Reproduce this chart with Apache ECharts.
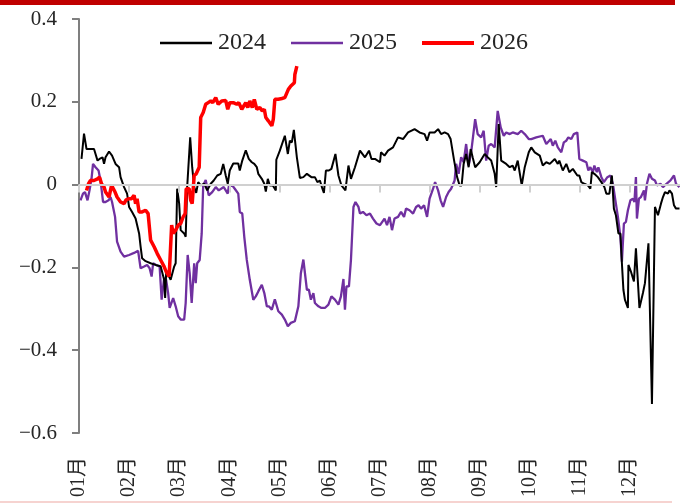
<!DOCTYPE html>
<html>
<head>
<meta charset="utf-8">
<script src="https://cdn.jsdelivr.net/npm/echarts@6/dist/echarts.min.js"></script>
<style>html,body{margin:0;padding:0;background:#fff}#c{width:680px;height:503px}</style>
</head>
<body>
<div id="c"></div>
<script>
// x = position within the year in months (0 = start of January), y = value
const monthLabels = ['01月','02月','03月','04月','05月','06月','07月','08月','09月','10月','11月','12月'];
const yTickLabels = {'-0.6':'−0.6','-0.4':'−0.4','-0.2':'−0.2','0':'0','0.2':'0.2','0.4':'0.4'};
const legendNames = ['2024','2025','2026'];

const series2024 = [
[0.05,0.062],[0.10,0.123],[0.15,0.086],[0.30,0.086],[0.33,0.09],[0.37,0.058],[0.41,0.062],[0.47,0.066],[0.50,0.05],[0.53,0.066],
[0.60,0.08],[0.66,0.07],[0.73,0.05],[0.80,0.042],[0.83,0.018],[0.90,-0.006],[0.96,-0.022],[1.00,-0.054],[1.06,-0.066],[1.13,-0.082],
[1.20,-0.118],[1.23,-0.15],[1.26,-0.178],[1.33,-0.185],[1.43,-0.19],[1.53,-0.194],[1.63,-0.197],[1.70,-0.23],[1.72,-0.274],[1.74,-0.214],
[1.78,-0.218],[1.83,-0.23],[1.90,-0.198],[1.93,-0.19],[1.96,-0.01],[2.00,-0.046],[2.03,-0.11],[2.10,-0.118],[2.13,-0.126],[2.16,-0.006],
[2.22,0.114],[2.26,0.042],[2.30,-0.006],[2.34,-0.02],[2.38,0.006],[2.43,-0.002],[2.50,0.002],[2.56,-0.014],[2.63,0.002],[2.69,0.01],
[2.76,0.022],[2.83,0.026],[2.88,0.05],[2.93,0.022],[2.97,0.002],[3.01,0.034],[3.08,0.051],[3.18,0.051],[3.21,0.034],[3.26,0.058],
[3.33,0.083],[3.39,0.062],[3.45,0.054],[3.50,0.05],[3.55,0.042],[3.58,0.026],[3.65,0.014],[3.70,0.002],[3.73,-0.017],[3.77,0.014],
[3.81,-0.002],[3.87,-0.002],[3.93,-0.014],[3.94,0.06],[4.01,0.082],[4.11,0.118],[4.17,0.074],[4.21,0.106],[4.25,0.102],[4.29,0.132],
[4.35,0.066],[4.41,0.016],[4.48,0.018],[4.55,0.026],[4.64,0.018],[4.71,0.018],[4.76,0.006],[4.81,0.01],[4.86,-0.01],[4.89,-0.02],
[4.93,0.034],[4.99,0.034],[5.04,0.038],[5.12,0.074],[5.18,0.022],[5.24,-0.002],[5.32,-0.014],[5.38,0.046],[5.43,0.014],[5.51,0.042],
[5.61,0.082],[5.71,0.066],[5.79,0.082],[5.84,0.062],[5.91,0.062],[6.01,0.054],[6.03,0.078],[6.10,0.07],[6.17,0.082],[6.27,0.09],
[6.37,0.114],[6.47,0.11],[6.57,0.126],[6.70,0.134],[6.80,0.126],[6.90,0.122],[6.95,0.106],[7.00,0.126],[7.10,0.126],[7.17,0.134],
[7.23,0.122],[7.30,0.126],[7.37,0.122],[7.42,0.11],[7.49,0.058],[7.55,0.018],[7.60,-0.002],[7.64,-0.002],[7.68,0.05],[7.73,0.074],
[7.78,0.042],[7.82,0.086],[7.86,0.066],[7.91,0.042],[8.00,0.054],[8.10,0.074],[8.16,0.066],[8.23,0.058],[8.30,0.026],[8.33,-0.006],
[8.38,0.146],[8.43,0.058],[8.53,0.05],[8.60,0.042],[8.66,0.046],[8.70,0.034],[8.76,0.058],[8.84,-0.002],[8.90,0.042],[8.98,0.078],
[9.03,0.09],[9.10,0.078],[9.20,0.07],[9.26,0.046],[9.33,0.054],[9.40,0.05],[9.50,0.062],[9.56,0.05],[9.59,0.058],[9.66,0.034],
[9.73,0.05],[9.79,0.03],[9.86,0.038],[9.89,0.042],[9.95,0.022],[9.99,0.022],[10.03,0.006],[10.09,0.002],[10.16,-0.002],[10.21,-0.01],
[10.24,0.03],[10.29,0.026],[10.36,0.018],[10.43,0.006],[10.49,-0.006],[10.53,-0.022],[10.59,-0.022],[10.64,0.022],[10.68,-0.058],[10.72,-0.074],
[10.77,-0.118],[10.81,-0.118],[10.84,-0.19],[10.87,-0.254],[10.90,-0.278],[10.96,-0.298],[10.97,-0.194],[11.02,-0.21],[11.08,-0.234],[11.12,-0.154],
[11.19,-0.298],[11.26,-0.262],[11.30,-0.238],[11.37,-0.142],[11.44,-0.53],[11.50,-0.054],[11.56,-0.074],[11.62,-0.046],[11.66,-0.03],[11.70,-0.018],
[11.76,-0.022],[11.79,-0.014],[11.84,-0.022],[11.88,-0.05],[11.92,-0.058],[11.99,-0.058]
];

const series2025 = [
[0.03,-0.038],[0.08,-0.022],[0.12,-0.018],[0.17,-0.038],[0.21,-0.014],[0.25,0.014],[0.28,0.05],[0.33,0.042],[0.39,0.034],[0.43,0.01],
[0.48,-0.042],[0.53,-0.042],[0.59,-0.038],[0.63,-0.03],[0.66,-0.042],[0.72,-0.078],[0.76,-0.138],[0.83,-0.162],[0.90,-0.174],[1.00,-0.17],
[1.10,-0.165],[1.18,-0.16],[1.23,-0.202],[1.30,-0.198],[1.36,-0.194],[1.41,-0.202],[1.45,-0.222],[1.48,-0.19],[1.54,-0.194],[1.61,-0.198],
[1.65,-0.278],[1.70,-0.226],[1.74,-0.23],[1.78,-0.262],[1.81,-0.298],[1.88,-0.274],[1.93,-0.294],[1.98,-0.318],[2.03,-0.326],[2.10,-0.326],
[2.13,-0.286],[2.17,-0.17],[2.21,-0.214],[2.25,-0.286],[2.30,-0.19],[2.33,-0.238],[2.36,-0.19],[2.41,-0.182],[2.45,-0.118],[2.48,-0.002],
[2.53,0.011],[2.59,-0.026],[2.66,-0.018],[2.73,-0.006],[2.79,-0.014],[2.89,-0.006],[2.97,-0.022],[2.99,-0.005],[3.06,-0.002],[3.11,-0.01],
[3.18,-0.022],[3.21,-0.066],[3.26,-0.07],[3.30,-0.126],[3.35,-0.182],[3.41,-0.23],[3.48,-0.278],[3.53,-0.27],[3.58,-0.258],[3.65,-0.242],
[3.70,-0.262],[3.75,-0.294],[3.79,-0.294],[3.85,-0.302],[3.91,-0.277],[3.98,-0.306],[4.05,-0.314],[4.11,-0.326],[4.17,-0.342],[4.23,-0.334],
[4.31,-0.33],[4.38,-0.294],[4.43,-0.214],[4.48,-0.181],[4.55,-0.254],[4.59,-0.254],[4.63,-0.278],[4.68,-0.262],[4.71,-0.286],[4.78,-0.294],
[4.84,-0.298],[4.91,-0.298],[4.98,-0.29],[5.04,-0.27],[5.11,-0.278],[5.18,-0.29],[5.23,-0.27],[5.28,-0.228],[5.31,-0.302],[5.34,-0.246],
[5.39,-0.246],[5.43,-0.182],[5.48,-0.054],[5.52,-0.042],[5.58,-0.054],[5.61,-0.07],[5.67,-0.066],[5.74,-0.074],[5.81,-0.07],[5.87,-0.082],
[5.94,-0.094],[6.01,-0.098],[6.03,-0.102],[6.10,-0.082],[6.15,-0.098],[6.20,-0.078],[6.25,-0.11],[6.30,-0.082],[6.37,-0.078],[6.43,-0.066],
[6.49,-0.078],[6.53,-0.058],[6.60,-0.062],[6.67,-0.07],[6.73,-0.054],[6.78,-0.05],[6.83,-0.058],[6.89,-0.05],[6.95,-0.078],[7.00,-0.034],
[7.07,-0.01],[7.11,0.006],[7.17,-0.014],[7.22,-0.038],[7.27,-0.054],[7.33,-0.03],[7.38,-0.018],[7.43,-0.01],[7.50,0.01],[7.53,0.05],
[7.58,0.026],[7.63,0.066],[7.68,0.054],[7.73,0.098],[7.78,0.046],[7.83,0.078],[7.91,0.158],[7.96,0.122],[8.03,0.114],[8.08,0.13],
[8.13,0.058],[8.18,0.094],[8.23,0.098],[8.30,0.09],[8.36,0.178],[8.42,0.138],[8.48,0.118],[8.53,0.126],[8.60,0.122],[8.66,0.126],
[8.76,0.122],[8.83,0.13],[8.90,0.122],[8.98,0.11],[9.03,0.11],[9.13,0.114],[9.26,0.118],[9.33,0.098],[9.42,0.11],[9.46,0.094],
[9.51,0.106],[9.56,0.09],[9.63,0.078],[9.68,0.102],[9.73,0.106],[9.77,0.114],[9.83,0.11],[9.88,0.122],[9.95,0.126],[9.99,0.062],
[10.06,0.058],[10.13,0.054],[10.17,0.034],[10.21,0.042],[10.26,0.03],[10.29,0.046],[10.34,0.03],[10.37,0.042],[10.43,0.018],[10.48,0.006],
[10.55,0.018],[10.61,0.022],[10.66,0.002],[10.71,-0.038],[10.76,-0.078],[10.81,-0.126],[10.84,-0.186],[10.88,-0.094],[10.92,-0.09],[10.96,-0.062],
[11.01,-0.038],[11.06,-0.034],[11.09,-0.042],[11.12,0.018],[11.14,-0.082],[11.18,-0.034],[11.22,-0.03],[11.28,-0.014],[11.30,-0.038],[11.34,0.002],
[11.39,0.026],[11.44,0.014],[11.50,0.01],[11.54,-0.002],[11.61,0.002],[11.66,-0.006],[11.73,0.002],[11.81,0.01],[11.88,0.022],[11.92,0.002],
[11.99,-0.006]
];

const series2026 = [
[0.15,-0.014],[0.19,0.002],[0.23,0.01],[0.30,0.01],[0.37,0.014],[0.41,0.018],[0.45,0.002],[0.50,-0.006],[0.53,-0.018],[0.60,-0.03],
[0.65,-0.002],[0.68,0.002],[0.72,-0.018],[0.76,-0.03],[0.83,-0.042],[0.90,-0.046],[0.94,-0.037],[1.00,-0.034],[1.05,-0.034],[1.10,-0.026],
[1.13,-0.046],[1.16,-0.034],[1.20,-0.066],[1.26,-0.066],[1.33,-0.062],[1.38,-0.07],[1.43,-0.134],[1.50,-0.15],[1.56,-0.166],[1.63,-0.182],
[1.70,-0.198],[1.74,-0.21],[1.80,-0.222],[1.85,-0.098],[1.88,-0.118],[1.93,-0.11],[1.98,-0.098],[2.03,-0.094],[2.08,-0.078],[2.12,-0.07],
[2.14,-0.01],[2.20,-0.01],[2.23,-0.038],[2.26,-0.046],[2.30,0.022],[2.34,0.026],[2.40,0.042],[2.43,0.162],[2.48,0.174],[2.53,0.194],
[2.58,0.198],[2.63,0.202],[2.67,0.198],[2.73,0.21],[2.78,0.194],[2.85,0.202],[2.93,0.203],[2.97,0.182],[3.01,0.198],[3.08,0.198],
[3.15,0.194],[3.19,0.198],[3.25,0.182],[3.28,0.178],[3.33,0.198],[3.37,0.186],[3.41,0.202],[3.46,0.186],[3.50,0.206],[3.55,0.182],
[3.61,0.186],[3.66,0.178],[3.70,0.182],[3.73,0.162],[3.78,0.154],[3.85,0.142],[3.88,0.158],[3.91,0.206],[3.98,0.206],[4.05,0.208],
[4.11,0.21],[4.18,0.23],[4.23,0.238],[4.30,0.246],[4.31,0.266],[4.35,0.286]
];

const serifFont = "'Liberation Serif', 'Times New Roman', serif";
const labelFont = "'Liberation Serif', 'Noto Sans CJK SC', serif";
const axisGray = '#d0d0d0';
const yMin = -0.6, yMax = 0.4;
const plotHeightPx = 503 - 19 - 70;
// tick depth of 8 px expressed in y-axis units
const tickDepth = 8 / plotHeightPx * (yMax - yMin);

function barIcon(th) {
  const a = (7 - th / 2).toFixed(2), b = (7 + th / 2).toFixed(2);
  return 'path://M0,0M52,14M0,' + a + 'L52,' + a + 'L52,' + b + 'L0,' + b + 'Z';
}

const axisMarkLines = [{yAxis: 0}].concat(monthLabels.map(function (lab, i) {
  return [{coord: [i, 0]}, {coord: [i, -tickDepth]}];
}));

const chart = echarts.init(document.getElementById('c'), null, {renderer: 'canvas'});
chart.setOption({
  animation: false,
  backgroundColor: '#ffffff',
  graphic: [
    {type: 'rect', left: 0, top: 0, shape: {width: 675, height: 5}, style: {fill: '#c00000'}, z: 100},
    {type: 'rect', left: 0, top: 501, shape: {width: 672, height: 2}, style: {fill: '#f6d3d0'}, z: 100}
  ],
  legend: {
    data: [
      {name: legendNames[0], icon: barIcon(2.5)},
      {name: legendNames[1], icon: barIcon(2.5)},
      {name: legendNames[2], icon: barIcon(4)}
    ],
    left: 155,
    top: 26,
    itemWidth: 52,
    itemHeight: 14,
    itemGap: 25,
    textStyle: {fontFamily: serifFont, fontSize: 24, color: '#262626', padding: [0, 0, 0, 1]}
  },
  grid: {left: 79, right: 0, top: 19, bottom: 70, containLabel: false},
  xAxis: {
    type: 'value', min: 0, max: 12, interval: 1, position: 'bottom',
    axisLine: {show: false, onZero: false},
    axisTick: {show: false},
    splitLine: {show: false},
    axisLabel: {
      rotate: 90, margin: 24, fontSize: 20, fontFamily: labelFont, color: '#262626',
      showMaxLabel: false,
      formatter: function (v) { return monthLabels[Math.round(v)] || ''; }
    }
  },
  yAxis: {
    type: 'value', min: yMin, max: yMax, interval: 0.2,
    axisLine: {show: true, onZero: false, lineStyle: {color: '#7f7f7f', width: 2}},
    axisTick: {show: true, length: 7, lineStyle: {color: '#7f7f7f', width: 2}},
    splitLine: {show: false},
    axisLabel: {
      margin: 22, fontSize: 21, fontFamily: serifFont, color: '#262626',
      formatter: function (v) { return yTickLabels[String(Math.round(v * 10) / 10)]; }
    }
  },
  series: [
    // helper series without data: gray horizontal axis line at 0 and month ticks hanging below it
    {
      name: 'zeroAxis', type: 'line', data: [], symbol: 'none', silent: true, z: 1,
      lineStyle: {color: axisGray, width: 0},
      markLine: {
        silent: true, symbol: ['none', 'none'], animation: false,
        label: {show: false},
        lineStyle: {color: axisGray, width: 2, type: 'solid'},
        emphasis: {disabled: true},
        data: axisMarkLines
      }
    },
    {name: legendNames[0], type: 'line', data: series2024, symbol: 'none',
     lineStyle: {color: '#000000', width: 2}, itemStyle: {color: '#000000'}, z: 3},
    {name: legendNames[1], type: 'line', data: series2025, symbol: 'none',
     lineStyle: {color: '#7030a0', width: 2.3}, itemStyle: {color: '#7030a0'}, z: 2},
    {name: legendNames[2], type: 'line', data: series2026, symbol: 'none',
     lineStyle: {color: '#ff0000', width: 3.5}, itemStyle: {color: '#ff0000'}, z: 4}
  ]
});
</script>
</body>
</html>
